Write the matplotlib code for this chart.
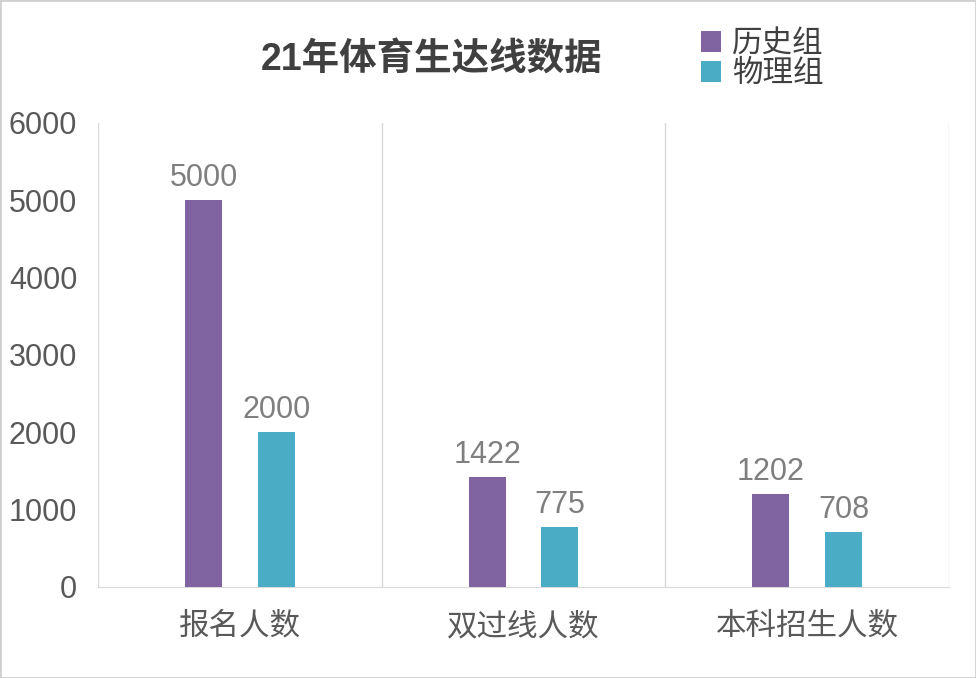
import matplotlib
matplotlib.use("Agg")
import matplotlib.pyplot as plt
import numpy as np

categories = ["报名人数", "双过线人数", "本科招生人数"]
series_names = ["历史组", "物理组"]
history = [5000, 1422, 1202]
physics = [2000, 775, 708]
yticks = [0, 1000, 2000, 3000, 4000, 5000, 6000]
title = "21年体育生达线数据"

plt.rcParams['font.family'] = ['Liberation Sans', 'Noto Sans CJK SC', 'DejaVu Sans']

colors = ["#8064A2", "#4BACC6"]
fig = plt.figure(figsize=(9.76, 6.78), dpi=100)
ax = fig.add_axes([98/976, 1-587/678, (949-98)/976, (587-123)/678])

x = np.arange(len(categories))
w = 0.13
off = 0.128
b1 = ax.bar(x - off, history, width=w, color=colors[0], label=series_names[0], zorder=3)
b2 = ax.bar(x + off, physics, width=w, color=colors[1], label=series_names[1], zorder=3)

for bars, vals in ((b1, history), (b2, physics)):
    for r, v in zip(bars, vals):
        ax.annotate(str(v), (r.get_x() + r.get_width()/2, v), xytext=(0, 5),
                    textcoords="offset points", ha="center", va="bottom",
                    fontsize=22, color="#7F7F7F")

ax.set_xlim(-0.5, len(categories) - 0.5)
ax.set_ylim(0, 6000)
ax.set_yticks(yticks)
ax.set_yticklabels([str(t) for t in yticks], fontsize=22, color="#595959")
ax.set_xticks(x)
ax.set_xticklabels(categories, fontsize=22, color="#595959")
ax.tick_params(axis='both', length=0)
ax.tick_params(axis='y', pad=15)
ax.tick_params(axis='x', pad=18)

for s in ['top', 'right', 'left']:
    ax.spines[s].set_visible(False)
ax.spines['bottom'].set_color("#D9D9D9")
for xv in np.arange(-0.5, len(categories), 1.0):
    ax.axvline(xv, color="#D9D9D9", lw=1, zorder=1)

fig.text(432/976, 1-60/678, title, ha="center", va="center", fontsize=27,
         fontweight="bold", color="#404040")

leg = fig.legend(handles=[b1, b2], labels=series_names, loc="upper left",
                 bbox_to_anchor=(686/976, 1-14/678), frameon=False, fontsize=22,
                 handlelength=0.65, handleheight=0.65, handletextpad=0.35,
                 labelspacing=0.0, borderpad=0)
for t in leg.get_texts():
    t.set_color("#404040")

fig.patches.append(plt.Rectangle((0, 0), 1, 1, transform=fig.transFigure,
                                 fill=False, edgecolor="#D0D0D0", lw=2))
fig.savefig("out.png", dpi=100)
